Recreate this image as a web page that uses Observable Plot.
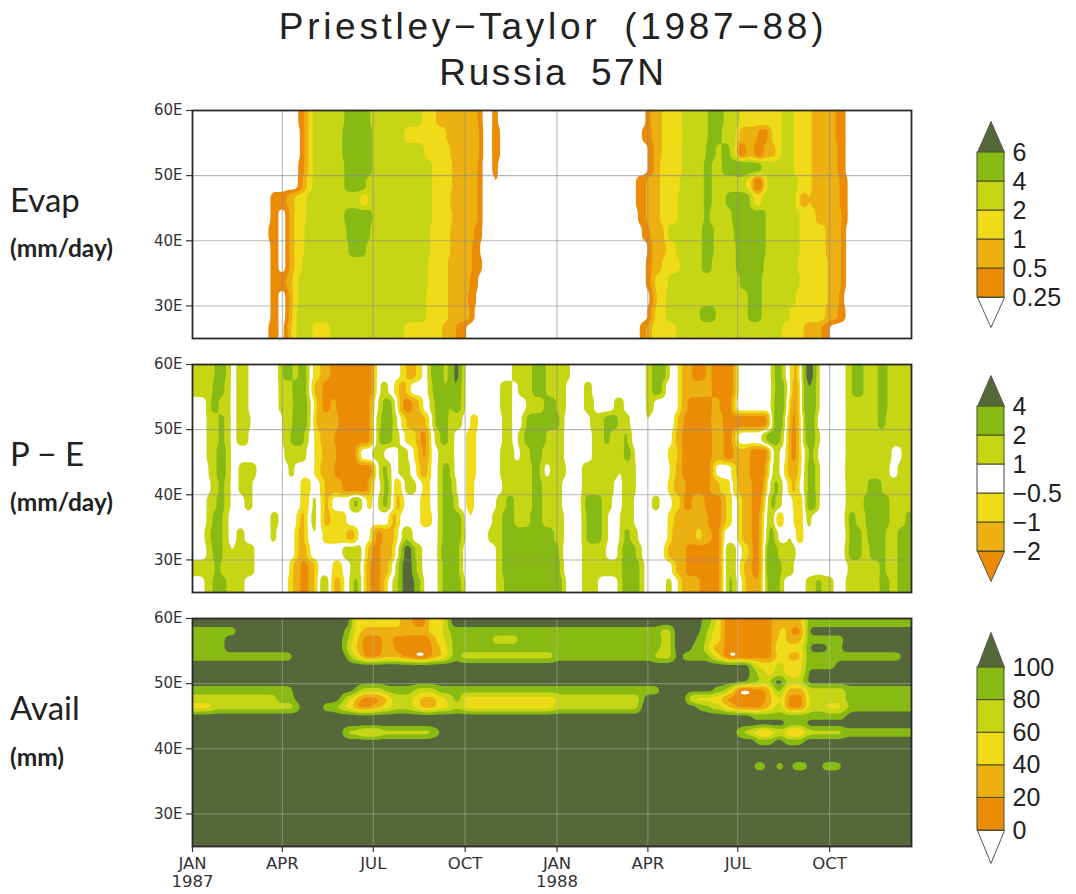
<!DOCTYPE html>
<html><head><meta charset="utf-8">
<script src="https://cdn.jsdelivr.net/npm/d3@7"></script>
<script src="https://cdn.jsdelivr.net/npm/@observablehq/plot@0.6"></script>
<style>
html,body{margin:0;padding:0;background:#fff;width:1076px;height:894px;overflow:hidden}
#page{position:relative;width:1076px;height:894px}
#page>*{position:absolute}
.title{left:0;width:1106px;text-align:center;font:37px "Liberation Sans",sans-serif;color:#222;white-space:pre;word-spacing:10px}
.side{left:10px;font-family:Lato,sans-serif;color:#222;white-space:pre;line-height:1}
.big{font-size:33px}
.small{font-size:24.5px;font-weight:700}
</style></head><body><div id="page"></div>
<script>
// Every row is a list of [day since 1 Jan 1987, band index from that day on].
const titleLines = ["Priestley\u2212Taylor (1987\u221288)", "Russia 57N"];
const titleTracking = [3.7, 2.6];
const monthTicks = [0, 90, 181, 273, 365, 456, 546, 638];
const monthLabels = ["JAN\n1987", "APR", "JUL", "OCT", "JAN\n1988", "APR", "JUL", "OCT"];
const lonTicks = [30, 40, 50, 60];

const orange="#eb8b06", amber="#ecb010", yellow="#efdb17", yg="#c7d614", green="#88ba14", dark="#566839", white="#ffffff";
const bandColors = [white, orange, amber, yellow, yg, green, dark];
const peColors = [orange, amber, yellow, white, yg, green, dark];
const evapLabels = ["0.25","0.5","1","2","4","6"];
const peLabels = ["\u22122","\u22121","\u22120.5","1","2","4"];
const availLabels = ["0","20","40","60","80","100"];

const evapRows = [
[[0,0],[106,1],[113,2],[117,3],[121,4],[153,5],[178,4],[231,3],[245,2],[286,1],[291,0],[301,1],[307,0],[455,1],[459,2],[470,3],[491,4],[516,5],[533,4],[548,3],[590,4],[603,3],[621,2],[645,1],[654,0]],
[[0,0],[108,1],[113,2],[117,3],[121,4],[151,5],[180,4],[213,3],[255,2],[288,1],[291,0],[300,1],[308,0],[451,1],[460,2],[470,3],[482,2],[487,3],[491,4],[516,5],[530,4],[546,2],[566,1],[578,3],[590,4],[603,3],[621,2],[645,1],[654,0]],
[[0,0],[108,1],[113,2],[117,3],[121,4],[151,5],[180,4],[233,3],[258,2],[289,1],[291,0],[300,1],[308,0],[456,1],[463,2],[470,3],[491,4],[515,5],[525,4],[530,5],[539,4],[546,0],[553,2],[565,0],[570,2],[585,3],[590,4],[603,3],[621,2],[646,1],[654,0]],
[[0,0],[107,1],[112,2],[116,3],[121,4],[153,5],[181,4],[240,3],[260,2],[286,1],[290,0],[301,1],[307,0],[456,1],[463,2],[469,3],[490,4],[513,5],[521,4],[530,5],[547,6],[550,5],[571,4],[603,3],[621,2],[646,1],[655,0]],
[[0,0],[106,1],[111,2],[115,3],[121,4],[153,5],[175,4],[240,3],[260,2],[286,1],[291,0],[302,1],[306,0],[445,1],[454,2],[469,3],[488,4],[513,5],[521,4],[555,3],[562,0],[568,1],[572,3],[575,4],[606,3],[621,2],[648,1],[656,0]],
[[0,0],[78,1],[95,2],[103,3],[115,4],[168,3],[176,4],[240,3],[258,2],[286,1],[291,0],[444,1],[454,2],[468,3],[486,4],[513,5],[521,4],[534,5],[561,3],[570,4],[605,3],[608,2],[616,3],[621,2],[648,1],[656,0]],
[[0,0],[78,1],[87,0],[95,1],[97,2],[103,3],[114,4],[153,5],[180,4],[240,3],[260,2],[286,1],[291,0],[446,1],[455,2],[468,3],[486,4],[513,5],[519,4],[540,5],[575,4],[608,3],[625,2],[650,1],[656,0]],
[[0,0],[77,1],[87,0],[95,1],[97,2],[103,3],[113,4],[155,5],[178,4],[238,3],[258,2],[283,1],[290,0],[451,1],[458,2],[475,4],[485,4],[511,5],[523,4],[543,5],[575,4],[608,3],[635,2],[650,1],[655,0]],
[[0,0],[78,1],[87,0],[95,1],[97,2],[103,3],[112,4],[156,5],[175,4],[238,3],[258,2],[281,1],[288,0],[456,1],[461,2],[475,3],[485,4],[511,5],[523,4],[545,5],[575,4],[608,3],[635,2],[650,1],[655,0]],
[[0,0],[78,1],[87,0],[95,1],[97,2],[103,3],[111,4],[236,3],[256,2],[280,1],[290,0],[454,1],[461,2],[470,3],[488,4],[511,5],[521,4],[545,5],[573,4],[606,3],[636,2],[651,1],[655,0]],
[[0,0],[78,1],[94,2],[97,2],[101,3],[106,4],[236,3],[256,2],[278,1],[286,0],[455,1],[461,2],[463,3],[476,4],[548,5],[571,4],[608,3],[636,2],[650,1],[655,0]],
[[0,0],[78,1],[87,0],[94,1],[96,2],[101,3],[106,4],[122,3],[126,4],[235,3],[256,2],[277,1],[284,0],[458,1],[463,2],[465,3],[474,4],[556,5],[571,4],[605,3],[636,2],[648,1],[653,0]],
[[0,0],[78,1],[87,0],[94,1],[96,2],[100,3],[105,4],[181,5],[185,4],[235,3],[257,2],[278,1],[283,0],[456,1],[461,2],[463,3],[475,4],[509,5],[524,4],[556,5],[571,4],[598,3],[635,2],[646,1],[655,0]],
[[0,0],[77,1],[87,0],[93,1],[96,2],[98,3],[105,4],[121,3],[138,4],[213,3],[250,2],[265,1],[275,0],[448,1],[455,2],[460,3],[485,4],[590,3],[613,2],[631,1],[638,0]]
];

const peRows = [
[[0,4],[23,5],[35,4],[39,3],[45,4],[57,3],[86,4],[90,5],[100,4],[106,5],[116,3],[121,2],[128,1],[138,0],[182,3],[208,2],[215,1],[225,2],[230,3],[236,4],[238,5],[244,6],[248,5],[250,4],[256,5],[262,6],[268,5],[271,4],[273,3],[321,4],[340,5],[355,4],[378,3],[424,4],[428,3],[455,4],[460,5],[476,3],[488,1],[501,0],[515,1],[520,0],[545,3],[580,4],[583,5],[593,3],[600,1],[608,3],[611,5],[615,6],[623,5],[626,3],[655,4],[660,5],[673,4],[678,3],[681,4],[686,5],[696,4]],
[[0,4],[21,5],[33,4],[39,3],[45,4],[57,3],[86,4],[100,5],[117,3],[121,1],[130,0],[182,3],[188,4],[196,3],[203,2],[207,1],[215,2],[218,3],[236,4],[241,5],[253,4],[256,5],[261,6],[265,5],[271,4],[273,3],[308,4],[320,3],[326,4],[340,5],[355,4],[375,3],[393,4],[400,3],[454,4],[460,5],[472,3],[488,1],[520,0],[545,3],[581,4],[584,5],[586,6],[591,5],[593,4],[596,3],[600,1],[602,0],[606,1],[608,3],[611,5],[616,6],[621,5],[626,3],[655,4],[661,5],[673,4],[678,3],[681,4],[686,5],[696,4]],
[[0,3],[14,4],[18,5],[26,4],[38,3],[45,4],[56,3],[86,4],[92,3],[96,4],[100,5],[116,4],[118,3],[122,2],[125,1],[131,0],[138,1],[145,0],[181,3],[186,4],[190,5],[201,4],[205,3],[206,1],[211,0],[220,1],[228,2],[231,3],[238,4],[242,5],[256,4],[260,5],[270,4],[272,3],[308,4],[321,3],[335,4],[353,5],[365,4],[375,3],[393,4],[403,3],[422,4],[433,3],[455,4],[463,3],[488,1],[496,0],[520,1],[528,0],[543,3],[581,4],[583,5],[586,6],[590,5],[594,3],[598,1],[600,0],[606,1],[608,3],[611,5],[616,6],[621,5],[626,3],[655,4],[678,3],[681,4],[686,5],[696,4]],
[[0,3],[15,4],[26,5],[33,4],[38,3],[44,4],[58,3],[91,4],[100,5],[116,4],[118,3],[122,1],[140,2],[144,0],[181,3],[183,4],[190,5],[192,6],[196,5],[201,4],[206,3],[209,2],[214,1],[235,2],[238,3],[240,4],[243,5],[256,4],[271,3],[278,2],[286,3],[310,4],[320,3],[330,4],[334,5],[368,4],[373,3],[398,4],[413,5],[426,4],[438,3],[455,4],[458,3],[485,1],[493,0],[520,1],[525,2],[528,1],[531,0],[578,3],[581,5],[586,6],[589,5],[593,4],[595,3],[597,1],[600,0],[606,1],[608,3],[612,5],[616,6],[621,5],[625,3],[655,4],[676,3],[681,4],[686,5],[695,4]],
[[0,3],[15,4],[26,5],[33,4],[38,3],[44,4],[57,3],[91,4],[98,5],[113,4],[117,3],[122,2],[128,1],[143,0],[181,3],[184,4],[186,5],[201,4],[208,3],[213,2],[224,1],[228,0],[236,2],[239,3],[243,4],[248,5],[256,4],[263,3],[275,2],[285,3],[311,4],[320,3],[327,4],[333,5],[355,4],[373,3],[400,4],[413,5],[418,4],[433,5],[438,3],[483,1],[491,0],[520,1],[533,0],[543,2],[546,3],[571,4],[575,5],[590,4],[593,3],[596,1],[598,0],[606,1],[608,3],[613,5],[625,4],[628,3],[655,4],[660,5],[665,4]],
[[0,3],[15,4],[25,5],[34,4],[39,3],[92,4],[114,3],[123,2],[131,1],[145,0],[166,3],[181,4],[193,3],[206,4],[216,3],[222,2],[226,1],[230,0],[236,2],[238,3],[246,4],[263,3],[275,2],[285,3],[308,4],[323,3],[328,4],[338,5],[350,4],[373,3],[401,4],[433,5],[440,4],[442,3],[476,2],[486,1],[491,0],[520,1],[533,0],[543,1],[548,2],[551,1],[558,0],[578,3],[581,4],[588,3],[596,1],[598,0],[606,1],[608,3],[614,4],[616,5],[623,4],[627,3],[655,4],[701,3],[710,4]],
[[0,3],[16,4],[25,5],[35,4],[39,3],[46,4],[64,3],[96,4],[103,3],[122,2],[128,1],[143,0],[183,3],[186,4],[190,5],[196,4],[198,3],[206,4],[218,3],[226,1],[236,2],[238,3],[246,4],[251,5],[258,4],[263,3],[275,2],[284,3],[308,4],[340,5],[348,4],[353,3],[358,4],[375,3],[391,4],[426,3],[430,4],[445,3],[478,2],[485,1],[491,0],[520,1],[523,3],[541,2],[544,1],[558,0],[576,3],[581,4],[588,3],[594,2],[595,1],[608,3],[615,5],[625,4],[628,3],[655,4],[658,5],[663,4],[699,3],[706,4]],
[[0,3],[18,4],[26,5],[33,4],[38,3],[46,4],[61,3],[111,1],[115,2],[118,3],[128,2],[133,1],[150,0],[176,1],[181,3],[190,5],[198,4],[200,3],[203,1],[208,3],[213,4],[225,3],[232,1],[236,3],[246,4],[251,5],[260,4],[265,3],[275,2],[283,3],[311,4],[340,5],[350,4],[371,3],[391,4],[423,3],[430,4],[445,3],[476,2],[482,1],[495,0],[518,1],[528,2],[538,3],[545,1],[560,0],[575,3],[578,4],[583,5],[588,4],[591,3],[598,1],[606,3],[615,5],[625,4],[628,3],[655,4],[676,5],[690,4]],
[[0,3],[14,4],[25,5],[33,4],[38,3],[53,4],[60,3],[110,1],[116,3],[119,4],[125,3],[131,1],[138,3],[158,4],[160,5],[166,4],[170,3],[175,2],[181,3],[186,4],[190,5],[196,4],[200,3],[203,1],[210,3],[231,1],[236,3],[246,4],[251,5],[263,4],[266,3],[275,2],[283,3],[305,4],[314,5],[322,4],[340,5],[350,4],[370,3],[391,4],[393,5],[410,4],[420,3],[430,4],[443,3],[461,4],[468,3],[480,2],[491,0],[501,1],[506,2],[510,1],[513,0],[530,1],[535,2],[540,3],[546,2],[550,1],[560,0],[573,3],[576,4],[579,5],[585,4],[591,3],[603,2],[605,1],[610,3],[615,5],[618,6],[621,5],[626,3],[655,4],[673,5],[698,4]],
[[0,3],[15,4],[20,5],[31,4],[36,3],[78,4],[86,3],[106,1],[115,3],[119,4],[125,3],[130,1],[138,2],[155,3],[198,1],[206,3],[228,2],[240,3],[246,4],[251,5],[270,4],[273,3],[276,2],[281,3],[300,4],[311,5],[323,4],[338,5],[350,4],[373,3],[391,4],[395,5],[410,4],[416,3],[428,4],[443,3],[476,2],[482,1],[516,0],[531,1],[535,2],[540,3],[546,2],[550,1],[561,0],[570,3],[576,4],[579,5],[582,4],[584,1],[591,3],[604,1],[610,3],[615,4],[620,3],[655,4],[657,5],[664,4],[675,5],[698,4],[715,5]],
[[0,3],[12,4],[18,5],[31,4],[37,3],[45,4],[52,3],[78,4],[84,3],[105,1],[115,3],[120,4],[124,3],[131,2],[155,1],[165,3],[181,1],[183,0],[190,1],[203,2],[206,3],[210,4],[213,5],[217,4],[220,3],[246,4],[251,5],[270,4],[273,3],[296,4],[311,5],[363,4],[373,3],[391,4],[395,5],[410,4],[416,3],[428,4],[433,5],[438,4],[446,3],[476,2],[481,1],[505,2],[511,1],[520,0],[531,3],[546,2],[550,1],[561,0],[570,3],[576,5],[578,6],[580,5],[582,4],[587,3],[596,4],[601,3],[606,1],[611,3],[618,4],[621,3],[656,4],[657,5],[670,4],[676,5],[694,4],[706,5]],
[[0,3],[14,4],[21,5],[30,4],[38,3],[43,4],[63,3],[105,1],[116,3],[151,4],[171,3],[174,1],[181,0],[188,1],[203,3],[206,4],[210,6],[220,5],[223,4],[231,3],[246,4],[249,5],[268,4],[271,3],[304,4],[311,5],[368,4],[371,3],[391,4],[415,3],[426,4],[431,5],[445,4],[450,3],[475,1],[495,0],[531,3],[535,4],[537,5],[541,4],[544,3],[550,2],[558,1],[561,0],[570,3],[575,5],[576,6],[580,5],[586,4],[604,3],[616,4],[621,3],[655,4],[656,5],[670,4],[678,5],[695,4],[706,5]],
[[0,4],[22,5],[28,4],[63,3],[99,2],[101,1],[108,0],[116,1],[125,3],[140,2],[150,3],[158,4],[170,3],[172,1],[178,0],[188,1],[199,3],[205,4],[207,5],[210,6],[221,5],[225,4],[231,3],[247,4],[251,5],[268,4],[271,3],[305,4],[311,5],[371,3],[391,4],[431,5],[448,4],[452,3],[482,1],[495,0],[531,3],[535,4],[537,5],[541,4],[544,3],[548,2],[553,1],[561,0],[570,3],[575,5],[577,6],[580,5],[590,4],[603,3],[656,4],[688,5],[695,4],[706,5]],
[[0,3],[13,4],[21,5],[35,4],[52,3],[96,2],[100,1],[108,0],[116,1],[125,3],[128,4],[130,5],[134,4],[136,3],[140,1],[151,3],[158,4],[160,5],[166,4],[170,3],[172,1],[178,0],[188,1],[195,3],[201,4],[206,5],[211,6],[223,5],[231,3],[247,4],[251,5],[270,4],[273,3],[305,4],[313,5],[373,3],[391,4],[406,3],[426,4],[431,5],[448,4],[453,3],[475,4],[480,3],[488,1],[508,0],[531,3],[535,4],[537,5],[543,4],[545,3],[553,1],[564,0],[568,1],[571,3],[575,5],[581,6],[584,5],[588,4],[593,3],[614,4],[625,5],[631,4],[642,3],[655,4],[689,5],[698,4],[706,5]]
];

const allDark = [[0,6]];
const availRows = [
[[0,6],[158,5],[160,4],[163,3],[208,2],[221,1],[235,2],[237,3],[253,4],[256,5],[258,6],[511,5],[520,4],[525,3],[531,2],[533,1],[581,2],[611,3],[613,4],[616,5]],
[[0,5],[45,6],[153,5],[158,4],[162,3],[171,2],[208,3],[210,2],[237,3],[251,4],[258,5],[468,4],[480,5],[483,6],[508,5],[516,4],[521,3],[530,2],[533,1],[581,2],[588,3],[596,2],[598,1],[610,2],[612,3],[614,4],[616,6]],
[[0,5],[33,6],[151,5],[156,4],[161,3],[167,2],[170,1],[190,2],[200,1],[238,2],[245,3],[253,4],[260,5],[300,4],[327,5],[470,4],[480,5],[483,6],[505,5],[515,4],[520,3],[530,2],[533,1],[581,2],[586,3],[595,2],[611,3],[614,5],[653,6]],
[[0,5],[32,6],[150,5],[154,4],[158,3],[165,2],[170,1],[190,2],[203,1],[240,2],[248,3],[256,4],[260,5],[468,4],[480,5],[482,6],[500,5],[512,4],[517,3],[521,2],[533,1],[581,2],[584,3],[587,4],[593,3],[611,4],[615,5],[619,6],[636,5],[650,6]],
[[0,5],[101,6],[155,5],[158,4],[163,3],[171,1],[188,2],[210,1],[223,0],[235,1],[240,2],[251,3],[256,4],[260,5],[268,4],[363,5],[463,4],[480,5],[485,6],[491,5],[518,4],[523,3],[531,1],[536,0],[546,1],[552,0],[558,1],[580,2],[586,3],[596,2],[610,3],[612,4],[615,5],[711,6]],
[[0,6],[558,5],[561,4],[566,3],[585,4],[593,3],[611,4],[615,5],[645,6]],
[[0,6],[558,5],[566,4],[575,3],[583,4],[593,3],[611,4],[614,5],[616,6]],
[[0,6],[556,5],[568,4],[578,5],[583,6],[593,5],[596,4],[610,5],[616,6]],
[[0,5],[100,6],[162,5],[168,4],[192,5],[222,4],[245,5],[468,6],[523,5],[535,4],[538,3],[545,1],[546,0],[561,1],[575,2],[581,4],[584,5],[590,4],[595,2],[615,4],[655,5]],
[[0,4],[85,5],[103,6],[148,5],[153,4],[158,3],[165,2],[168,1],[188,2],[196,3],[201,4],[221,3],[228,2],[245,3],[255,4],[263,5],[271,3],[364,4],[448,5],[452,6],[495,5],[497,4],[500,3],[528,2],[535,1],[575,2],[581,3],[588,4],[593,2],[596,1],[613,2],[615,3],[618,4],[655,5]],
[[0,3],[21,4],[103,5],[108,6],[131,5],[145,4],[153,3],[161,2],[165,1],[180,2],[190,3],[201,4],[220,3],[228,2],[245,3],[258,4],[272,3],[363,4],[448,6],[506,5],[518,4],[531,3],[536,2],[545,1],[571,2],[578,3],[585,4],[593,2],[596,1],[610,2],[616,4],[635,3],[650,4],[658,5]],
[[0,6],[560,5],[655,6]],
[[0,6],[595,5],[615,6]],
[[0,6],[150,5],[155,4],[168,3],[188,4],[240,5],[248,6],[545,5],[551,4],[561,3],[566,2],[578,3],[588,4],[593,3],[596,2],[611,3],[616,4],[653,5]],
[[0,6],[565,5],[582,6],[592,5],[612,6]],
allDark, allDark,
[[0,6],[563,5],[575,6],[585,5],[593,6],[601,5],[616,6],[631,5],[650,6]],
allDark, allDark, allDark, allDark, allDark, allDark, allDark, allDark, allDark
];

const totalDays = 720, dayStep = 2, cols = totalDays / dayStep;

// Turn band-edge rows into the regular grid that Plot.contour reads.
function toGrid(rows, repeat) {
  const values = [];
  for (const row of rows) {
    const line = [];
    let k = 0;
    for (let c = 0; c < cols; c++) {
      const day = (c + 0.5) * dayStep;
      while (k + 1 < row.length && row[k + 1][0] <= day) k++;
      line.push(row[k][1]);
    }
    for (let r = 0; r < repeat; r++) values.push(...line);
  }
  return {values, width: cols, height: rows.length * repeat};
}

const page = document.getElementById("page");
function place(node, left, top) {
  node.style.left = left + "px"; node.style.top = top + "px"; page.appendChild(node);
}

const axisFont = "'DejaVu Sans',sans-serif";
function panel({rows, repeat, colors, thresholds, top, showX}) {
  const g = toGrid(rows, repeat);
  const marginTop = 12, marginBottom = showX ? 46 : 12, inner = 228;
  const lineColor = showX ? "#c4c8b8" : "#8a8a8a", lineOpacity = showX ? 0.4 : 0.6;
  const chart = Plot.plot({
    width: 1076, height: inner + marginTop + marginBottom,
    marginLeft: 192, marginRight: 165, marginTop, marginBottom,
    style: {background: "transparent"},
    x: {domain: [0, totalDays]},
    y: {domain: [25, 60]},
    color: {type: "threshold", domain: [0.5,1.5,2.5,3.5,4.5,5.5], range: colors},
    marks: [
      Plot.contour(g.values, {width: g.width, height: g.height, x1: 0, x2: totalDays, y1: 60, y2: 25,
        fill: Plot.identity, thresholds, blur: 1}),
      Plot.ruleX(monthTicks.slice(1), {stroke: lineColor, strokeOpacity: lineOpacity, strokeWidth: 1.1}),
      Plot.ruleY(lonTicks.slice(0,3), {stroke: lineColor, strokeOpacity: lineOpacity, strokeWidth: 1.1}),
      Plot.axisY(lonTicks, {tickSize: 6, tickPadding: 4, tickFormat: d => d + "E", label: null,
        fontSize: 15, fontFamily: axisFont, stroke: "#333", fill:"#333", strokeWidth: 1.2}),
      showX ? Plot.axisX(monthTicks, {tickSize: 6, tickPadding: 3, label: null,
        tickFormat: d => monthLabels[monthTicks.indexOf(d)], lineHeight: 1.12,
        fontSize: 16.5, fontFamily: axisFont, stroke: "#333", fill:"#333", strokeWidth: 1.2}) : Plot.axisX({ticks: []}),
      Plot.frame({stroke: "#2a2a2a", strokeWidth: 1.8})
    ]
  });
  place(chart, 0, top - marginTop);
}

// Vertical colour key: one rectangle per band and a pointed cap at both ends.
function key({colors, labels, base, bandHeight, capTop, capBottom}) {
  const inner = colors.length - 2;
  const H = (capBottom + capTop) + inner * bandHeight;
  const bands = d3.range(inner).map(i => ({i, fill: colors[i + 1]}));
  const lowCap = [{x:0,y:0},{x:0.5,y:-capBottom/bandHeight},{x:1,y:0},{x:0,y:0}];
  const highCap = [{x:0,y:inner},{x:0.5,y:inner+capTop/bandHeight},{x:1,y:inner},{x:0,y:inner}];
  const marks = [
    Plot.line(lowCap, {x:"x", y:"y", fill: colors[0], stroke:"#555", strokeWidth:1}),
    Plot.line(highCap, {x:"x", y:"y", fill: colors[colors.length-1], stroke:"#555", strokeWidth:1}),
    Plot.rect(bands, {x1:0, x2:1, y1:"i", y2:d=>d.i+1, fill:d=>d.fill, stroke:"#4a4a2a", strokeWidth:1}),
    Plot.text(labels, {x:1, y:(d,i)=>i, text:d=>d, textAnchor:"start", dx:8, fontSize:25,
      fontFamily:"'Liberation Sans',sans-serif", fill:"#222"})
  ];
  const chart = Plot.plot({
    width: 116, height: H + 12,
    marginLeft: 17, marginRight: 72, marginTop: 6, marginBottom: 6,
    style: {background:"transparent", overflow:"visible"},
    x: {domain:[0,1], axis:null},
    y: {domain:[-capBottom/bandHeight, inner+capTop/bandHeight], axis:null},
    marks
  });
  place(chart, 960, base - 6);
}

titleLines.forEach((t,i) => {
  const d = document.createElement("div");
  d.className = "title"; d.textContent = t;
  d.style.letterSpacing = titleTracking[i] + "px";
  place(d, 0, 6 + i*46);
});
[["Evap",183,"big"],["(mm/day)",236,"small"],["P \u2212 E",437,"big"],["(mm/day)",490,"small"],["Avail",691,"big"],["(mm)",745,"small"]].forEach(([t,y,c]) => {
  const d = document.createElement("div");
  d.className = "side " + c; d.textContent = t;
  place(d, 10, y);
});

panel({rows: evapRows, repeat: 8, colors: bandColors, thresholds: [0.5,1.5,2.5,3.5,4.5,5.5], top: 110});
panel({rows: peRows, repeat: 8, colors: peColors, thresholds: [-0.5,0.5,1.5,2.5,3.5,4.5,5.5], top: 364});
panel({rows: availRows, repeat: 4, colors: bandColors, thresholds: [0.5,1.5,2.5,3.5,4.5,5.5], top: 618, showX: true});

key({colors: bandColors, labels: evapLabels, base: 121, bandHeight: 29, capTop: 31, capBottom: 30});
key({colors: peColors, labels: peLabels, base: 375, bandHeight: 29, capTop: 31, capBottom: 30});
key({colors: bandColors, labels: availLabels, base: 632, bandHeight: 32.6, capTop: 35, capBottom: 33});
</script></body></html>
